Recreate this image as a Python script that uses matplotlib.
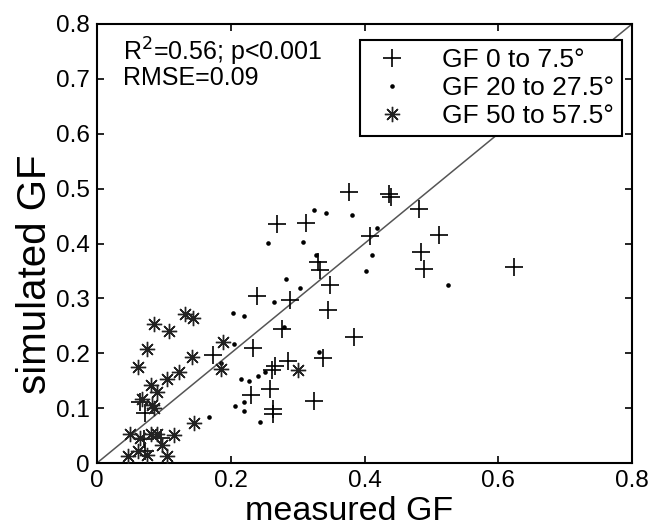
import matplotlib
matplotlib.use("Agg")
import matplotlib.pyplot as plt
import numpy as np

plt.rcParams['font.family'] = ['Liberation Sans', 'DejaVu Sans']

# GF 0 to 7.5 deg (plus markers)
gf0_meas = [0.377, 0.437, 0.439, 0.269, 0.313, 0.482, 0.408, 0.512, 0.484, 0.489,
            0.623, 0.331, 0.333, 0.348, 0.346, 0.239, 0.289, 0.276, 0.385, 0.174,
            0.233, 0.338, 0.286, 0.266, 0.262, 0.231, 0.259, 0.263, 0.263, 0.324,
            0.065, 0.072, 0.070, 0.095, 0.072]
gf0_sim = [0.493, 0.490, 0.484, 0.436, 0.437, 0.462, 0.414, 0.415, 0.385, 0.354,
           0.357, 0.367, 0.352, 0.324, 0.279, 0.304, 0.297, 0.245, 0.229, 0.197,
           0.209, 0.191, 0.186, 0.177, 0.170, 0.124, 0.134, 0.099, 0.090, 0.113,
           0.112, 0.091, 0.044, 0.046, 0.021]

# GF 20 to 27.5 deg (dots)
gf20_meas = [0.324, 0.342, 0.381, 0.255, 0.308, 0.418, 0.327, 0.411, 0.402, 0.283,
             0.304, 0.525, 0.265, 0.204, 0.220, 0.205, 0.279, 0.332, 0.215, 0.227,
             0.241, 0.251, 0.207, 0.220, 0.220, 0.243, 0.168, 0.186]
gf20_sim = [0.461, 0.456, 0.452, 0.401, 0.403, 0.429, 0.379, 0.379, 0.349, 0.335,
            0.318, 0.324, 0.293, 0.273, 0.267, 0.216, 0.248, 0.202, 0.153, 0.149,
            0.159, 0.165, 0.104, 0.111, 0.094, 0.075, 0.083, 0.183]

# GF 50 to 57.5 deg (asterisks)
gf50_meas = [0.132, 0.144, 0.085, 0.107, 0.075, 0.062, 0.142, 0.189, 0.185, 0.301,
             0.122, 0.105, 0.080, 0.090, 0.067, 0.082, 0.085, 0.145, 0.050, 0.065,
             0.080, 0.090, 0.115, 0.097, 0.047, 0.062, 0.075, 0.105]
gf50_sim = [0.272, 0.264, 0.253, 0.241, 0.207, 0.175, 0.194, 0.221, 0.172, 0.169,
            0.165, 0.153, 0.142, 0.130, 0.116, 0.106, 0.100, 0.073, 0.053, 0.045,
            0.053, 0.053, 0.051, 0.033, 0.012, 0.021, 0.015, 0.012]

labels = ['GF 0 to 7.5°', 'GF 20 to 27.5°', 'GF 50 to 57.5°']
xticks = [0, 0.2, 0.4, 0.6, 0.8]
xticklabels = ['0', '0.2', '0.4', '0.6', '0.8']
yticks = [0, 0.1, 0.2, 0.3, 0.4, 0.5, 0.6, 0.7, 0.8]
yticklabels = ['0', '0.1', '0.2', '0.3', '0.4', '0.5', '0.6', '0.7', '0.8']

fig = plt.figure(figsize=(6.5, 5.29), dpi=100)
ax = fig.add_axes([97/650, 1-463/529, (632-97)/650, (463-24)/529])

ax.plot([0, 0.8], [0, 0.8], color='#555555', lw=1.1, zorder=1)

ax.plot(gf0_meas, gf0_sim, linestyle='none', marker='+', ms=12.5, mew=1.2,
        color='black', label=labels[0], zorder=3)
ax.plot(gf20_meas, gf20_sim, linestyle='none', marker='o', ms=3.3, mew=0,
        color='black', label=labels[1], zorder=3)
ax.plot(gf50_meas, gf50_sim, linestyle='none', marker=(8, 2, 0), ms=11, mew=1.0,
        color='#222222', label=labels[2], zorder=3)

ax.set_xlim(0, 0.8)
ax.set_ylim(0, 0.8)
ax.set_xticks(xticks)
ax.set_xticklabels(xticklabels)
ax.set_yticks(yticks)
ax.set_yticklabels(yticklabels)
ax.tick_params(direction='in', length=5, width=1.2, top=True, right=True,
               labelsize=17.5, pad=5)
for s in ax.spines.values():
    s.set_linewidth(1.5)

ax.set_xlabel('measured GF', fontsize=24.5)
ax.xaxis.set_label_coords(0.471, -0.129, transform=ax.transAxes)
ax.xaxis.label.set_va('baseline')
ax.set_ylabel('simulated GF', fontsize=29)
ax.yaxis.set_label_coords(-0.08, 0.43, transform=ax.transAxes)

ax.text(0.048, 0.972, 'R$^2$=0.56; p<0.001\nRMSE=0.09', transform=ax.transAxes,
        fontsize=18, va='top', ha='left', linespacing=0.88)

leg = ax.legend(loc='upper right', bbox_to_anchor=(0.981, 0.9636), fontsize=19,
                frameon=True, fancybox=False, edgecolor='black', framealpha=1,
                borderpad=0.3, labelspacing=0.15, handletextpad=1.0,
                borderaxespad=0.0, handlelength=1.8)
leg.get_frame().set_linewidth(1.5)
leg.set_zorder(5)

fig.savefig('out.png', dpi=100)
